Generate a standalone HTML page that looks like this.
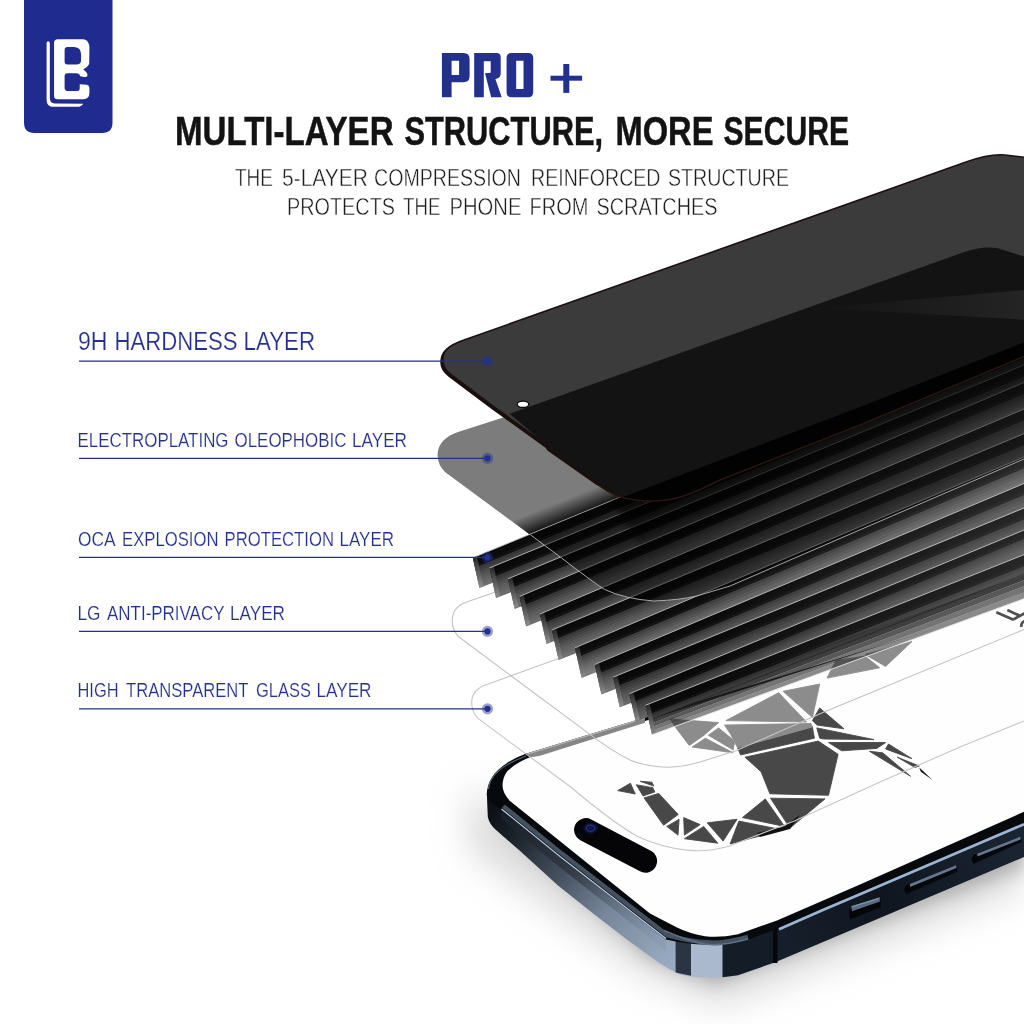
<!DOCTYPE html>
<html><head><meta charset="utf-8"><title>PRO+ Multi-layer structure</title>
<style>
html,body{margin:0;padding:0;background:#fff;}
body{width:1024px;height:1024px;overflow:hidden;position:relative;font-family:"Liberation Sans",sans-serif;}
svg{position:absolute;left:0;top:0;display:block;will-change:transform;}
text{font-family:"Liberation Sans",sans-serif;}
</style></head><body>
<svg width="1024" height="1024" viewBox="0 0 1024 1024">
<defs>
<filter id="blur18" x="-50%" y="-50%" width="200%" height="200%"><feGaussianBlur stdDeviation="18"/></filter>
<filter id="blur8" x="-50%" y="-50%" width="200%" height="200%"><feGaussianBlur stdDeviation="8"/></filter>
<filter id="blur3" x="-50%" y="-50%" width="200%" height="200%"><feGaussianBlur stdDeviation="3"/></filter>
<filter id="blur1" x="-50%" y="-50%" width="200%" height="200%"><feGaussianBlur stdDeviation="1.2"/></filter>
<linearGradient id="finface" x1="0" y1="0" x2="0" y2="1">
 <stop offset="0" stop-color="#0a0a0a"/><stop offset="0.36" stop-color="#151515"/><stop offset="0.40" stop-color="#2e2e2e"/><stop offset="1" stop-color="#6a6a6a"/>
</linearGradient>
<linearGradient id="finend" x1="0" y1="0" x2="0" y2="1">
 <stop offset="0" stop-color="#262626"/><stop offset="1" stop-color="#8e8e8e"/>
</linearGradient>
<linearGradient id="sideL" gradientUnits="userSpaceOnUse" x1="487" y1="805" x2="700" y2="965">
 <stop offset="0" stop-color="#0b0e13"/><stop offset="0.15" stop-color="#1a2129"/><stop offset="0.4" stop-color="#4a5665"/><stop offset="0.6" stop-color="#77869a"/><stop offset="0.85" stop-color="#93a5bb"/><stop offset="1" stop-color="#9fb3cb"/>
</linearGradient>
<linearGradient id="sideLtop" gradientUnits="userSpaceOnUse" x1="500" y1="806" x2="660" y2="935">
 <stop offset="0" stop-color="#1a2028" stop-opacity="0.9"/><stop offset="0.5" stop-color="#2a323c" stop-opacity="0.7"/><stop offset="1" stop-color="#7f8fa5" stop-opacity="0.3"/>
</linearGradient>
<linearGradient id="sideR" gradientUnits="userSpaceOnUse" x1="740" y1="960" x2="1024" y2="830">
 <stop offset="0" stop-color="#1a2230"/><stop offset="0.5" stop-color="#0f1620"/><stop offset="1" stop-color="#1b2533"/>
</linearGradient>
<linearGradient id="topref" gradientUnits="userSpaceOnUse" x1="800" y1="300" x2="1024" y2="300">
 <stop offset="0" stop-color="#222" stop-opacity="0"/><stop offset="1" stop-color="#242424" stop-opacity="1"/>
</linearGradient>
<linearGradient id="grayshade" gradientUnits="userSpaceOnUse" x1="560" y1="501.5" x2="567" y2="519">
 <stop offset="0" stop-color="#000" stop-opacity="0"/><stop offset="1" stop-color="#000" stop-opacity="0.82"/>
</linearGradient>
<linearGradient id="finlight" gradientUnits="userSpaceOnUse" x1="700" y1="0" x2="1024" y2="0">
 <stop offset="0" stop-color="#fff" stop-opacity="0"/><stop offset="1" stop-color="#fff" stop-opacity="0.12"/>
</linearGradient>
<linearGradient id="topshadow" gradientUnits="userSpaceOnUse" x1="800" y1="450" x2="818" y2="495">
 <stop offset="0" stop-color="#000" stop-opacity="0.6"/><stop offset="1" stop-color="#000" stop-opacity="0"/>
</linearGradient>
</defs>
<!-- phone shadow -->
<path d="M468,790 L470,850 L640,972 L720,1006 L1024,888 L1024,820 L700,900 Z" fill="#b8b8b8" opacity="0.5" filter="url(#blur18)"/>
<path d="M492,818 L650,960 L715,985 L1024,868 L1024,830 L700,930 Z" fill="#8c8c8c" opacity="0.55" filter="url(#blur8)"/>
<!-- phone side faces -->
<path d="M486.8,793 L487.8,817 Q489.5,824.5 496,830 L519,850 L558,885.5 Q592,913 627.5,940 L660,963.5 Q670,970 679.5,974.3 Q692,977.5 708.8,977.2 Q726,977.5 738,975.2 L777,961.6 L777,927 L748,938 Q722,946 705,943 Q688,943 666,938 L640,918 L600,887 L560,856 L501.5,808.5 L491,799 Z" fill="url(#sideL)"/>
<path d="M501.5,808.5 L560,856 L640,918 L666,938 L666,951 L640,930 L560,867.5 L501.5,819 Z" fill="url(#sideLtop)"/>
<!-- corner stripes -->
<path d="M675.6,934 L691,940 L691,975.8 L675.6,972.6 Z" fill="#2b3442"/>
<path d="M691,940 Q706,944.5 722.5,944.2 L722.5,977.2 Q706,978 691,975.8 Z" fill="#aab9cd"/>
<path d="M722.5,944.2 Q740,942 773,929 L773,963 L738,975.2 L722.5,977.2 Z" fill="#141c28"/>
<path d="M773,930 L860,891 L1024,822 L1024,857 L777,961.6 L773,963 Z" fill="url(#sideR)"/>
<rect x="773" y="928" width="4.5" height="35" fill="#05070a"/>
<!-- bezel -->
<path d="M486.8,795 C487,779 497,765 525,754 L645,717.6 L1024,602 L1024,823.6 L860,892.6 L777,929 L748,939.5 Q722,947.5 705,944.5 Q688,944.5 666,939.5 L640,919.5 L600,888.5 L560,857.5 L501.5,810 Q489,802 486.8,795 Z" fill="#07090c"/>
<!-- highlight lines on frame edge -->
<path d="M503.4,806.1 L561.9,853.6 L601.9,884.6 L641.9,915.6 L667.5,935.3 Q690,941.5 707,942.3 Q722,944 748,936.8" stroke="#465160" stroke-width="4.4" fill="none"/>
<path d="M501.5,809 L560,856.5 L600,887.5 L640,918.5 L666,938.5" stroke="#b9cde6" stroke-width="1.3" fill="none"/>
<path d="M779,929.2 L824,909.5 L860,894.3 L1024,824.2" stroke="#9db5d2" stroke-width="2.7" fill="none"/>
<path d="M664,930.5 Q688,941 705,944 Q722,946.5 748,939" stroke="#5d7088" stroke-width="1.5" fill="none"/>
<path d="M488.5,789 C489.5,777 499,766 526,756" stroke="#5a6470" stroke-width="1.2" fill="none"/>
<!-- screen -->
<path d="M502.5,785.2 C503,777 506,772 509.3,769.5 Q518,761 538.6,754 L642,722 L1024,600 L1024,811.8 L860,884.4 L777,920.5 L738,934.2 Q720,938 705,936.2 Q690,934 677,927.6 L650,913.5 L510,801 Q502.5,793 502.5,785.2 Z" fill="#fefefe"/>
<!-- dynamic island -->
<line x1="585.8" y1="829.8" x2="645.4" y2="861" stroke="#050507" stroke-width="23.4" stroke-linecap="round"/>
<ellipse cx="590.5" cy="828.3" rx="7.5" ry="5.6" fill="#0b1030"/>
<ellipse cx="590.5" cy="828.3" rx="4.2" ry="3.1" fill="none" stroke="#1f2f8a" stroke-width="1.5"/>
<ellipse cx="590.5" cy="828.3" rx="1.6" ry="1.2" fill="#141a50"/>
<!-- side buttons -->
<path d="M849,910 L880.5,899 L881,907 L850,919.5 Z" fill="#04060a"/>
<path d="M851.5,906.3 L879.5,897.6 L880,901.6 L852,911.2 Z" fill="#5b6c82"/>
<path d="M851.5,906.3 L879.5,897.6 L879.6,898.8 L851.6,907.6 Z" fill="#8194ab"/>
<path d="M904.5,888 L957,867.5 L957.5,871.5 L906,894.5 Z" fill="#05080c"/>
<path d="M910,884 L956,865.3 L956.3,868 L910,887 Z" fill="#66778e"/>
<ellipse cx="907.3" cy="888.6" rx="2.6" ry="4" fill="#03050a" transform="rotate(20 907.3 888.6)"/>
<path d="M972,857.5 L1021,838 L1021.5,842 L973.5,864 Z" fill="#05080c"/>
<path d="M977.3,853.7 L1020.3,836.8 L1020.6,839.5 L977.3,856.6 Z" fill="#66778e"/>
<ellipse cx="974.6" cy="858.3" rx="2.6" ry="4" fill="#03050a" transform="rotate(20 974.6 858.3)"/>
<!-- low-poly animal -->
<g fill="#484848" stroke="#484848" stroke-width="0.9" stroke-linejoin="miter">
<!-- tail -->
<polygon points="617.7,790.6 630.4,783.2 635.3,794"/>
<polygon points="640.2,781.3 651.9,782.2 653.8,786.1"/>
<polygon points="636.3,784.8 652.9,787.7 654.8,792 643,795.9"/>
<polygon points="644,797.9 658.7,793.4 678.2,814.5 663.6,825.2"/>
<polygon points="666.8,826.4 679.1,819.3 678,835.1"/>
<polygon points="683.7,817.6 700.2,824.6 684.4,835.1"/>
<polygon points="684.4,838.7 703.7,826.4 717.8,843.2"/>
<polygon points="707.2,822.8 737.1,819.3 723.1,841.1"/>
<polygon points="738.9,821.1 782.8,829.9 730.1,843.9"/>
<polygon points="742.4,817.6 765.3,798.9 784.6,826.4"/>
<polygon points="770.5,798.2 825,798.9 789.9,828.1"/>
<!-- body -->
<polygon points="745,757.2 818.2,741.1 838.1,754.3 828.5,795.3 769.9,793.8 761.1,771.8"/>
<polygon points="737.6,747.8 812.4,727 814.4,738.2 740.6,754.9"/>
<!-- legs -->
<polygon points="819.7,708 844,728.8 816.8,725 812.4,720.6"/>
<polygon points="816.8,727.9 873.9,739.6 824.1,739 819.7,738.2"/>
<polygon points="828.5,742.5 885.6,742.5 876.8,748.4 841.7,750.8"/>
<polygon points="888.5,744 912,758.7 885.6,749"/>
<polygon points="869.5,751.3 882.7,752.8 910.5,776.2"/>
<polygon points="897.3,757.2 919.3,766 914.9,767.4"/>
</g>
<polygon points="919.3,767.4 932.5,780 920.8,771.8" fill="#111"/>
<polygon points="757,833 784,826.5 800,815 790,829 760,837" fill="#111"/>
<g fill="#8c8c8c" stroke="#8c8c8c" stroke-width="0.9" stroke-linejoin="miter">
<polygon points="670,719 718.6,722.6 704,735.2 689.3,745.5 677.5,730"/>
<polygon points="692.2,747 705.4,738.2 733.2,752.8"/>
<polygon points="708.3,735.2 718.6,727.9 734.7,741.1 733.2,749.9"/>
<polygon points="724.5,725 811,723.5 812.4,727 737.6,747.8 730.3,733.8"/>
<polygon points="725.9,720.6 778.7,692.7 806.5,722"/>
<polygon points="783.1,691.3 819.7,684 812.4,717.6"/>
<polygon points="827,678.1 835.8,660.5 865.1,656.1 879.7,667.8"/>
<polygon points="865.1,654.6 912,641.5 885.6,666.4"/>
</g>
<!-- partial letter at right edge -->
<g stroke="#505050" stroke-width="2.7" fill="none">
<line x1="996.3" y1="612.2" x2="1013.5" y2="619.8"/>
<line x1="1013" y1="619.6" x2="1027" y2="612"/>
<line x1="1007.3" y1="610" x2="1019.5" y2="615.6"/>
<path d="M1027,620.5 Q1020.5,621.5 1021.5,627"/>
</g>
<!-- phone top bezel seen through glass (lighter) -->
<path d="M527,753.6 L645,717.6 L645,722.8 L540,755.8 L531,757.3 Z" fill="#858585"/>
<path d="M527,753.6 L645,717.6 L645,718.8 L528,754.6 Z" fill="#b5b5b5"/>
<!-- transparent glass outlines (B then A) -->
<path d="M471.7,702 C472,692 478,687 488.2,684 L558,658.7 L1024,490 M1024,720.9 L960,747 L880,782 L794.4,821 L728,846.5 Q708,852 689,850.4 Q663,848 638,836.7 Q612,822 572,788 L478,718.4 Q471.5,712 471.7,702" fill="none" stroke="#c6c6c6" stroke-width="1.1"/>
<path d="M452.2,620.6 C452.5,610 458,605 468,601.6 L508.6,587.6 L1024,410 M1024,629.5 L824,712 L735.8,750.8 L700,762 Q683,767 668.5,767.2 Q645,766.5 630.5,760.3 Q610,750 587.3,732.4 L513.6,677.8 L459,637 Q452,630 452.2,620.6" fill="none" stroke="#c2c2c2" stroke-width="1.1"/>
<!-- gray (oleophobic) layer -->
<path d="M437.6,456 C437,444 446,436 458,432 L508,416 L700,380 L700,470 L622,496 L531,535.5 L445,472 Q438,465 437.6,456 Z" fill="#7c7c7c"/>
<path d="M512,521 L640,468.5 L640,489.5 L531,535.5 Z" fill="url(#grayshade)"/>
<!-- fins -->
<g shape-rendering="geometricPrecision">
<polygon points="472.8,557.8 1032.0,327.7 1032.0,330.5 473.5,560.8" fill="#080808"/>
<polygon points="473.3,560.3 1032.0,329.8 1032.0,333.4 474.0,563.3" fill="#0a0a0a"/>
<polygon points="473.9,562.7 1032.0,332.6 1032.0,336.6 474.6,565.8" fill="#0a0a0a"/>
<polygon points="474.4,565.2 1032.0,335.8 1032.0,340.1 475.1,568.2" fill="#111111"/>
<polygon points="475.0,567.6 1032.0,339.2 1032.0,343.7 475.6,570.7" fill="#373737"/>
<polygon points="475.5,570.1 1032.0,342.9 1032.0,347.6 476.2,573.1" fill="#404040"/>
<polygon points="476.1,572.5 1032.0,346.6 1032.0,351.5 476.7,575.6" fill="#4a4a4a"/>
<polygon points="476.6,575.0 1032.0,350.6 1032.0,355.6 477.3,578.1" fill="#545454"/>
<polygon points="477.1,577.5 1032.0,354.6 1032.0,359.8 477.8,580.5" fill="#5b5b5b"/>
<polygon points="477.7,579.9 1032.0,358.8 1032.0,364.1 478.3,583.0" fill="#616161"/>
<polygon points="478.2,582.4 1032.0,363.1 1032.0,368.5 478.9,585.4" fill="#676767"/>
<polygon points="478.8,584.8 1032.0,367.4 1032.0,373.0 479.4,587.9" fill="#6d6d6d"/>
<polygon points="472.8,557.8 477.0,556.3 483.5,585.6 479.3,587.3" fill="url(#finend)"/>
<line x1="472.8" y1="557.8" x2="1032.0" y2="327.7" stroke="#bdbdbd" stroke-width="0.9"/>
<polygon points="489.5,568.0 1032.0,343.7 1032.0,346.4 490.2,571.0" fill="#080808"/>
<polygon points="490.0,570.5 1032.0,345.8 1032.0,349.4 490.7,573.5" fill="#0a0a0a"/>
<polygon points="490.6,572.9 1032.0,348.6 1032.0,352.6 491.3,576.0" fill="#0a0a0a"/>
<polygon points="491.1,575.4 1032.0,351.8 1032.0,356.1 491.8,578.4" fill="#111111"/>
<polygon points="491.7,577.8 1032.0,355.2 1032.0,359.7 492.3,580.9" fill="#373737"/>
<polygon points="492.2,580.3 1032.0,358.8 1032.0,363.6 492.9,583.3" fill="#404040"/>
<polygon points="492.8,582.8 1032.0,362.6 1032.0,367.5 493.4,585.8" fill="#4a4a4a"/>
<polygon points="493.3,585.2 1032.0,366.5 1032.0,371.6 494.0,588.3" fill="#545454"/>
<polygon points="493.8,587.7 1032.0,370.6 1032.0,375.8 494.5,590.7" fill="#5b5b5b"/>
<polygon points="494.4,590.1 1032.0,374.8 1032.0,380.1 495.0,593.2" fill="#616161"/>
<polygon points="494.9,592.6 1032.0,379.0 1032.0,384.5 495.6,595.6" fill="#676767"/>
<polygon points="495.5,595.0 1032.0,383.4 1032.0,389.0 496.1,598.1" fill="#6d6d6d"/>
<polygon points="489.5,568.0 493.7,566.5 500.2,595.8 496.0,597.5" fill="url(#finend)"/>
<line x1="489.5" y1="568.0" x2="1032.0" y2="343.7" stroke="#bdbdbd" stroke-width="0.9"/>
<polygon points="508.0,578.8 1032.0,361.7 1032.0,364.4 508.7,581.8" fill="#080808"/>
<polygon points="508.5,581.3 1032.0,363.8 1032.0,367.4 509.2,584.3" fill="#0a0a0a"/>
<polygon points="509.1,583.7 1032.0,366.6 1032.0,370.6 509.8,586.8" fill="#0a0a0a"/>
<polygon points="509.6,586.2 1032.0,369.8 1032.0,374.1 510.3,589.2" fill="#111111"/>
<polygon points="510.2,588.6 1032.0,373.2 1032.0,377.7 510.8,591.7" fill="#373737"/>
<polygon points="510.7,591.1 1032.0,376.8 1032.0,381.5 511.4,594.1" fill="#404040"/>
<polygon points="511.2,593.5 1032.0,380.6 1032.0,385.5 511.9,596.6" fill="#4a4a4a"/>
<polygon points="511.8,596.0 1032.0,384.5 1032.0,389.6 512.5,599.1" fill="#545454"/>
<polygon points="512.3,598.5 1032.0,388.6 1032.0,393.8 513.0,601.5" fill="#5b5b5b"/>
<polygon points="512.9,600.9 1032.0,392.8 1032.0,398.1 513.5,604.0" fill="#616161"/>
<polygon points="513.4,603.4 1032.0,397.0 1032.0,402.5 514.1,606.4" fill="#676767"/>
<polygon points="514.0,605.8 1032.0,401.4 1032.0,407.0 514.6,608.9" fill="#6d6d6d"/>
<polygon points="508.0,578.8 512.2,577.3 518.7,606.6 514.5,608.3" fill="url(#finend)"/>
<line x1="508.0" y1="578.8" x2="1032.0" y2="361.7" stroke="#bdbdbd" stroke-width="0.9"/>
<polygon points="519.5,596.5 1032.0,379.1 1032.0,381.9 520.2,599.5" fill="#080808"/>
<polygon points="520.0,599.0 1032.0,381.2 1032.0,384.8 520.7,602.0" fill="#0a0a0a"/>
<polygon points="520.6,601.4 1032.0,384.0 1032.0,388.0 521.3,604.5" fill="#0a0a0a"/>
<polygon points="521.1,603.9 1032.0,387.2 1032.0,391.5 521.8,606.9" fill="#111111"/>
<polygon points="521.7,606.3 1032.0,390.6 1032.0,395.1 522.3,609.4" fill="#373737"/>
<polygon points="522.2,608.8 1032.0,394.3 1032.0,399.0 522.9,611.8" fill="#404040"/>
<polygon points="522.8,611.2 1032.0,398.0 1032.0,402.9 523.4,614.3" fill="#4a4a4a"/>
<polygon points="523.3,613.7 1032.0,402.0 1032.0,407.0 524.0,616.8" fill="#545454"/>
<polygon points="523.8,616.2 1032.0,406.0 1032.0,411.2 524.5,619.2" fill="#5b5b5b"/>
<polygon points="524.4,618.6 1032.0,410.2 1032.0,415.5 525.0,621.7" fill="#616161"/>
<polygon points="524.9,621.1 1032.0,414.5 1032.0,419.9 525.6,624.1" fill="#676767"/>
<polygon points="525.5,623.5 1032.0,418.8 1032.0,424.4 526.1,626.6" fill="#6d6d6d"/>
<polygon points="519.5,596.5 523.7,595.0 530.2,624.3 526.0,626.0" fill="url(#finend)"/>
<line x1="519.5" y1="596.5" x2="1032.0" y2="379.1" stroke="#bdbdbd" stroke-width="0.9"/>
<polygon points="540.0,614.0 1032.0,405.6 1032.0,408.4 540.7,617.0" fill="#080808"/>
<polygon points="540.5,616.5 1032.0,407.7 1032.0,411.3 541.2,619.5" fill="#0a0a0a"/>
<polygon points="541.1,618.9 1032.0,410.5 1032.0,414.5 541.8,622.0" fill="#0a0a0a"/>
<polygon points="541.6,621.4 1032.0,413.7 1032.0,418.0 542.3,624.4" fill="#111111"/>
<polygon points="542.2,623.8 1032.0,417.1 1032.0,421.7 542.8,626.9" fill="#373737"/>
<polygon points="542.7,626.3 1032.0,420.8 1032.0,425.5 543.4,629.3" fill="#404040"/>
<polygon points="543.2,628.8 1032.0,424.5 1032.0,429.4 543.9,631.8" fill="#4a4a4a"/>
<polygon points="543.8,631.2 1032.0,428.5 1032.0,433.5 544.5,634.3" fill="#545454"/>
<polygon points="544.3,633.7 1032.0,432.5 1032.0,437.7 545.0,636.7" fill="#5b5b5b"/>
<polygon points="544.9,636.1 1032.0,436.7 1032.0,442.0 545.5,639.2" fill="#616161"/>
<polygon points="545.4,638.6 1032.0,441.0 1032.0,446.4 546.1,641.6" fill="#676767"/>
<polygon points="546.0,641.0 1032.0,445.3 1032.0,450.9 546.6,644.1" fill="#6d6d6d"/>
<polygon points="540.0,614.0 544.2,612.5 550.7,641.8 546.5,643.5" fill="url(#finend)"/>
<line x1="540.0" y1="614.0" x2="1032.0" y2="405.6" stroke="#bdbdbd" stroke-width="0.9"/>
<polygon points="552.0,630.0 1032.0,430.4 1032.0,433.1 552.7,633.0" fill="#090909"/>
<polygon points="552.5,632.5 1032.0,432.5 1032.0,436.0 553.2,635.5" fill="#0a0a0a"/>
<polygon points="553.1,634.9 1032.0,435.3 1032.0,439.3 553.8,638.0" fill="#0b0b0b"/>
<polygon points="553.6,637.4 1032.0,438.5 1032.0,442.8 554.3,640.4" fill="#111111"/>
<polygon points="554.2,639.8 1032.0,441.9 1032.0,446.4 554.8,642.9" fill="#383838"/>
<polygon points="554.7,642.3 1032.0,445.5 1032.0,450.2 555.4,645.3" fill="#424242"/>
<polygon points="555.2,644.8 1032.0,449.3 1032.0,454.2 555.9,647.8" fill="#4c4c4c"/>
<polygon points="555.8,647.2 1032.0,453.2 1032.0,458.3 556.5,650.3" fill="#565656"/>
<polygon points="556.3,649.7 1032.0,457.3 1032.0,462.5 557.0,652.7" fill="#5e5e5e"/>
<polygon points="556.9,652.1 1032.0,461.5 1032.0,466.8 557.5,655.2" fill="#646464"/>
<polygon points="557.4,654.6 1032.0,465.7 1032.0,471.2 558.1,657.6" fill="#6a6a6a"/>
<polygon points="558.0,657.0 1032.0,470.1 1032.0,475.7 558.6,660.1" fill="#707070"/>
<polygon points="552.0,630.0 556.2,628.5 562.7,657.8 558.5,659.5" fill="url(#finend)"/>
<line x1="552.0" y1="630.0" x2="1032.0" y2="430.4" stroke="#bdbdbd" stroke-width="0.9"/>
<polygon points="575.0,647.8 1032.0,453.6 1032.0,456.3 575.7,650.8" fill="#0a0a0a"/>
<polygon points="575.5,650.3 1032.0,455.7 1032.0,459.3 576.2,653.3" fill="#0b0b0b"/>
<polygon points="576.1,652.7 1032.0,458.5 1032.0,462.5 576.8,655.8" fill="#0c0c0c"/>
<polygon points="576.6,655.2 1032.0,461.7 1032.0,466.0 577.3,658.2" fill="#131313"/>
<polygon points="577.2,657.6 1032.0,465.1 1032.0,469.6 577.8,660.7" fill="#3f3f3f"/>
<polygon points="577.7,660.1 1032.0,468.8 1032.0,473.5 578.4,663.1" fill="#4a4a4a"/>
<polygon points="578.2,662.5 1032.0,472.5 1032.0,477.4 578.9,665.6" fill="#555555"/>
<polygon points="578.8,665.0 1032.0,476.5 1032.0,481.5 579.5,668.1" fill="#606060"/>
<polygon points="579.3,667.5 1032.0,480.5 1032.0,485.7 580.0,670.5" fill="#696969"/>
<polygon points="579.9,669.9 1032.0,484.7 1032.0,490.0 580.5,673.0" fill="#707070"/>
<polygon points="580.4,672.4 1032.0,489.0 1032.0,494.4 581.1,675.4" fill="#777777"/>
<polygon points="581.0,674.8 1032.0,493.3 1032.0,498.9 581.6,677.9" fill="#7d7d7d"/>
<polygon points="575.0,647.8 579.2,646.3 585.7,675.6 581.5,677.3" fill="url(#finend)"/>
<line x1="575.0" y1="647.8" x2="1032.0" y2="453.6" stroke="#bdbdbd" stroke-width="0.9"/>
<polygon points="594.8,664.5 1032.0,480.1 1032.0,482.9 595.5,667.5" fill="#090909"/>
<polygon points="595.3,667.0 1032.0,482.2 1032.0,485.8 596.0,670.0" fill="#0a0a0a"/>
<polygon points="595.9,669.4 1032.0,485.1 1032.0,489.0 596.6,672.5" fill="#0b0b0b"/>
<polygon points="596.4,671.9 1032.0,488.2 1032.0,492.5 597.1,674.9" fill="#121212"/>
<polygon points="597.0,674.3 1032.0,491.7 1032.0,496.2 597.6,677.4" fill="#393939"/>
<polygon points="597.5,676.8 1032.0,495.3 1032.0,500.0 598.2,679.8" fill="#444444"/>
<polygon points="598.0,679.2 1032.0,499.1 1032.0,504.0 598.7,682.3" fill="#4e4e4e"/>
<polygon points="598.6,681.7 1032.0,503.0 1032.0,508.0 599.3,684.8" fill="#585858"/>
<polygon points="599.1,684.2 1032.0,507.1 1032.0,512.2 599.8,687.2" fill="#606060"/>
<polygon points="599.7,686.6 1032.0,511.2 1032.0,516.6 600.3,689.7" fill="#666666"/>
<polygon points="600.2,689.1 1032.0,515.5 1032.0,520.9 600.9,692.1" fill="#6c6c6c"/>
<polygon points="600.8,691.5 1032.0,519.9 1032.0,525.4 601.4,694.6" fill="#737373"/>
<polygon points="594.8,664.5 599.0,663.0 605.5,692.3 601.3,694.0" fill="url(#finend)"/>
<line x1="594.8" y1="664.5" x2="1032.0" y2="480.1" stroke="#bdbdbd" stroke-width="0.9"/>
<polygon points="613.2,677.2 1032.0,504.7 1032.0,507.5 613.9,680.2" fill="#080808"/>
<polygon points="613.7,679.7 1032.0,506.8 1032.0,510.4 614.4,682.7" fill="#090909"/>
<polygon points="614.3,682.1 1032.0,509.6 1032.0,513.6 615.0,685.2" fill="#0a0a0a"/>
<polygon points="614.8,684.6 1032.0,512.8 1032.0,517.1 615.5,687.6" fill="#101010"/>
<polygon points="615.4,687.0 1032.0,516.2 1032.0,520.8 616.0,690.1" fill="#343434"/>
<polygon points="615.9,689.5 1032.0,519.9 1032.0,524.6 616.6,692.5" fill="#3d3d3d"/>
<polygon points="616.5,692.0 1032.0,523.6 1032.0,528.5 617.1,695.0" fill="#464646"/>
<polygon points="617.0,694.4 1032.0,527.6 1032.0,532.6 617.7,697.5" fill="#505050"/>
<polygon points="617.5,696.9 1032.0,531.6 1032.0,536.8 618.2,699.9" fill="#575757"/>
<polygon points="618.1,699.3 1032.0,535.8 1032.0,541.1 618.7,702.4" fill="#5c5c5c"/>
<polygon points="618.6,701.8 1032.0,540.1 1032.0,545.5 619.3,704.8" fill="#626262"/>
<polygon points="619.2,704.2 1032.0,544.5 1032.0,550.0 619.8,707.3" fill="#686868"/>
<polygon points="613.2,677.2 617.4,675.7 623.9,705.0 619.7,706.7" fill="url(#finend)"/>
<line x1="613.2" y1="677.2" x2="1032.0" y2="504.7" stroke="#bdbdbd" stroke-width="0.9"/>
<polygon points="629.3,693.8 1032.0,526.7 1032.0,528.8 630.0,696.6" fill="#080808"/>
<polygon points="629.8,696.1 1032.0,528.3 1032.0,531.0 630.5,698.9" fill="#090909"/>
<polygon points="630.4,698.4 1032.0,530.5 1032.0,533.5 631.1,701.2" fill="#090909"/>
<polygon points="630.9,700.7 1032.0,532.9 1032.0,536.2 631.6,703.5" fill="#0f0f0f"/>
<polygon points="631.5,703.0 1032.0,535.6 1032.0,539.0 632.1,705.8" fill="#313131"/>
<polygon points="632.0,705.3 1032.0,538.3 1032.0,542.0 632.7,708.1" fill="#3a3a3a"/>
<polygon points="632.5,707.5 1032.0,541.3 1032.0,545.0 633.2,710.4" fill="#434343"/>
<polygon points="633.1,709.8 1032.0,544.3 1032.0,548.2 633.8,712.7" fill="#4c4c4c"/>
<polygon points="633.6,712.1 1032.0,547.4 1032.0,551.4 634.3,715.0" fill="#525252"/>
<polygon points="634.2,714.4 1032.0,550.6 1032.0,554.7 634.8,717.3" fill="#585858"/>
<polygon points="634.7,716.7 1032.0,553.9 1032.0,558.1 635.4,719.6" fill="#5d5d5d"/>
<polygon points="635.3,719.0 1032.0,557.3 1032.0,561.6 635.9,721.8" fill="#626262"/>
<polygon points="629.3,693.8 633.5,692.3 640.0,719.6 635.8,721.3" fill="url(#finend)"/>
<line x1="629.3" y1="693.8" x2="1032.0" y2="526.7" stroke="#bdbdbd" stroke-width="0.9"/>
<polygon points="645.5,705.3 1032.0,551.5 1032.0,554.3 646.2,708.3" fill="#080808"/>
<polygon points="646.0,707.8 1032.0,553.6 1032.0,557.2 646.7,710.8" fill="#090909"/>
<polygon points="646.6,710.2 1032.0,556.5 1032.0,560.4 647.3,713.3" fill="#090909"/>
<polygon points="647.1,712.7 1032.0,559.6 1032.0,563.9 647.8,715.7" fill="#0f0f0f"/>
<polygon points="647.7,715.1 1032.0,563.1 1032.0,567.6 648.3,718.2" fill="#313131"/>
<polygon points="648.2,717.6 1032.0,566.7 1032.0,571.4 648.9,720.6" fill="#3a3a3a"/>
<polygon points="648.8,720.0 1032.0,570.5 1032.0,577.2 649.7,724.2" fill="#1e1e1e" fill-opacity="0.86"/>
<polygon points="649.7,724.2 1032.0,577.2 1032.0,583.1 650.4,727.7" fill="#1e1e1e" fill-opacity="0.74"/>
<polygon points="650.4,727.7 1032.0,583.1 1032.0,589.4 651.2,731.3" fill="#1e1e1e" fill-opacity="0.62"/>
<polygon points="651.2,731.3 1032.0,589.4 1032.0,595.8 652.0,734.8" fill="#1e1e1e" fill-opacity="0.52"/>
<polygon points="645.5,705.3 649.7,703.8 656.2,733.1 652.0,734.8" fill="url(#finend)"/>
<line x1="645.5" y1="705.3" x2="1032.0" y2="551.5" stroke="#bdbdbd" stroke-width="0.9"/>
<line x1="652.0" y1="734.8" x2="1032.0" y2="595.8" stroke="#e8e8e8" stroke-width="0.9"/>
</g>
<!-- brightening of fins toward right -->
<path d="M700,488 L1024,356 L1024,575 L700,690 Z" fill="url(#finlight)"/>
<!-- shadow of the top layer on the fins -->
<path d="M612,500 L1030,346 L1030,404 L640,548 Z" fill="url(#topshadow)" filter="url(#blur3)"/>
<!-- outline C: glass over fins -->
<path d="M530.3,534.7 L561.6,558 Q590,580 604.5,589.4 Q625,599 653.8,601 Q680,600 696.7,596 L730,586 L1030,456.4 L1030,340 L720,465 L622,496.5 Z" fill="#000" fill-opacity="0.45" stroke="none"/>
<path d="M530.3,534.7 L561.6,558 Q590,580 604.5,589.4 Q625,599 653.8,601 Q680,600 696.7,596 L730,586 L1030,456.4" fill="none" stroke="#b4b4b4" stroke-width="0.9"/>
<!-- top layer (9H) -->
<clipPath id="topclip"><path d="M441,362 C441,352 448,345.5 464,340 L966,162 Q990,153.5 1005,155 L1030,158 L1030,354 L860,425 L720,480 L706.5,486.5 Q690,494.5 677,498 Q662,501.5 648,501 Q632,500.5 618.6,496.7 Q608,492.5 598,485 L547.8,449.8 L546.3,447.4 L493,409 L449,376 Q441,370 441,362 Z"/></clipPath>
<path d="M441,362 C441,352 448,345.5 464,340 L966,162 Q990,153.5 1005,155 L1030,158 L1030,354 L860,425 L720,480 L706.5,486.5 Q690,494.5 677,498 Q662,501.5 648,501 Q632,500.5 618.6,496.7 Q608,492.5 598,485 L547.8,449.8 L546.3,447.4 L493,409 L449,376 Q441,370 441,362 Z" fill="#1b1010"/>
<g clip-path="url(#topclip)">
<path d="M441,362 C441,352 448,345.5 464,340 L966,162 Q990,153.5 1005,155 L1030,158 L1030,354 L860,425 L720,480 L706.5,486.5 Q690,494.5 677,498 Q662,501.5 648,501 Q632,500.5 618.6,496.7 Q608,492.5 598,485 L547.8,449.8 L546.3,447.4 L493,409 L449,376 Q441,370 441,362 Z" fill="#3b3b3b" transform="translate(2.6,-2.0)"/>
<!-- black privacy region -->
<path transform="translate(1.6,-1.2)" d="M508,415 L962,253.5 Q982,246.5 996,249.5 L1030,260 L1030,354 L860,425 L720,480 L706.5,486.5 Q690,494.5 677,498 Q662,501.5 648,501 Q632,500.5 618.6,496.7 Q608,492.5 598,485 L547.8,449.8 L546.3,447.4 Z" fill="#131313"/>
<path d="M818,308 L1030,289.5 L1030,320 Z" fill="url(#topref)"/>
<!-- black band at bottom edge -->
<path d="M622,497.5 L860,407 L1030,340 L1030,354 L860,425 L720,480 L706.5,486.5 Q690,494.5 677,498 Q662,501.5 648,501 Q632,500.5 622,497.5 Z" fill="#020202"/>
</g>
<!-- edge -->
<path d="M464,340 L966,162 Q990,153.5 1005,155 L1030,158" fill="none" stroke="#1c1010" stroke-width="1.5"/>
<path d="M1030,354 L860,425 L720,480 L706.5,486.5 Q690,494.5 677,498 Q662,501.5 648,501 Q632,500.5 618.6,496.7 Q608,492.5 598,485" fill="none" stroke="#2a1614" stroke-width="1.4"/>
<path d="M598,485 L547.8,449.8 L546.3,447.4 L493,409 L449,376 Q441,370 441,362 C441,352 448,345.5 464,340" fill="none" stroke="#1a0e0e" stroke-width="1.6" stroke-linejoin="round"/>
<ellipse cx="523" cy="404.3" rx="5.8" ry="3.2" fill="#ffffff" stroke="#0a0a0a" stroke-width="1.3"/>
<!-- labels -->
<g stroke="#24308e" stroke-width="1.25" fill="none">
<line x1="79" y1="361" x2="487" y2="361"/>
<line x1="79" y1="458.3" x2="487" y2="458.3"/>
<line x1="79" y1="557.4" x2="487" y2="557.4"/>
<line x1="79" y1="631.4" x2="487" y2="631.4"/>
<line x1="79" y1="708.8" x2="487" y2="708.8"/>
</g>
<g fill="#24308e">
<circle cx="487.5" cy="361" r="5.6" fill-opacity="0.45"/><circle cx="487.5" cy="361" r="3.1"/>
<circle cx="487.5" cy="458.3" r="5.6" fill-opacity="0.45"/><circle cx="487.5" cy="458.3" r="3.1"/>
<circle cx="487.5" cy="557.4" r="5.6" fill-opacity="0.45"/><circle cx="487.5" cy="557.4" r="3.1"/>
<circle cx="487.5" cy="631.4" r="5.6" fill-opacity="0.45"/><circle cx="487.5" cy="631.4" r="3.1"/>
<circle cx="487.5" cy="708.8" r="5.6" fill-opacity="0.45"/><circle cx="487.5" cy="708.8" r="3.1"/>
</g>
<g fill="#24308e" stroke="#ffffff" stroke-width="0.2">
<g font-size="26.2">
<text x="78" y="350" textLength="29.5" lengthAdjust="spacingAndGlyphs">9H</text>
<text x="114.5" y="350" textLength="123" lengthAdjust="spacingAndGlyphs">HARDNESS</text>
<text x="243.5" y="350" textLength="71.5" lengthAdjust="spacingAndGlyphs">LAYER</text>
</g>
<g font-size="21">
<text x="77.5" y="447" textLength="151" lengthAdjust="spacingAndGlyphs">ELECTROPLATING</text>
<text x="234.5" y="447" textLength="112" lengthAdjust="spacingAndGlyphs">OLEOPHOBIC</text>
<text x="352" y="447" textLength="55" lengthAdjust="spacingAndGlyphs">LAYER</text>
<text x="78" y="546" textLength="37.5" lengthAdjust="spacingAndGlyphs">OCA</text>
<text x="122" y="546" textLength="96.5" lengthAdjust="spacingAndGlyphs">EXPLOSION</text>
<text x="224.5" y="546" textLength="109.5" lengthAdjust="spacingAndGlyphs">PROTECTION</text>
<text x="339.5" y="546" textLength="54.5" lengthAdjust="spacingAndGlyphs">LAYER</text>
<text x="77.5" y="620.4" textLength="23" lengthAdjust="spacingAndGlyphs">LG</text>
<text x="107" y="620.4" textLength="117.5" lengthAdjust="spacingAndGlyphs">ANTI-PRIVACY</text>
<text x="230" y="620.4" textLength="55" lengthAdjust="spacingAndGlyphs">LAYER</text>
<text x="77.5" y="696.9" textLength="41" lengthAdjust="spacingAndGlyphs">HIGH</text>
<text x="126" y="696.9" textLength="122.5" lengthAdjust="spacingAndGlyphs">TRANSPARENT</text>
<text x="256" y="696.9" textLength="55" lengthAdjust="spacingAndGlyphs">GLASS</text>
<text x="316.5" y="696.9" textLength="55" lengthAdjust="spacingAndGlyphs">LAYER</text>
</g>
</g>
<!-- logo badge -->
<path d="M24,0 L112.5,0 L112.5,122.5 Q112.5,133 102,133 L34.5,133 Q24,133 24,122.5 Z" fill="#1f2b8f"/>
<g transform="translate(34,28) scale(0.08795)" fill="#ffffff">
<path fill-rule="evenodd" d="M270,128 L560,128 Q630,135 630,230 L628,400 Q620,440 560,470 L600,510 Q615,530 605,548 Q595,560 570,556 L525,548 Q520,515 480,515 L380,515 Q348,515 348,550 L348,680 Q348,715 380,715 L490,715 Q520,715 520,690 L520,640 L600,645 Q628,648 630,680 L630,740 Q630,810 560,810 L270,810 Q228,810 228,770 L228,170 Q228,128 270,128 Z M380,215 L460,215 Q535,220 535,300 L535,370 Q535,415 480,415 L380,415 Q348,415 348,385 L348,250 Q348,215 380,215 Z"/>
<path d="M162,150 Q180,150 180,175 L180,800 Q180,858 235,858 L560,860 Q540,895 490,896 L220,896 Q143,896 143,815 L143,175 Q143,150 162,150 Z"/>
</g>
<!-- PRO + -->
<g fill="#24308e">
<path d="M441.9,53 L463.4,53 Q469.6,53 469.6,59.2 L469.6,76 Q469.6,82.25 463.4,82.25 L451.6,82.25 L451.6,97.25 L441.9,97.25 Z M451.6,60.8 L451.6,74.9 L459.1,74.9 L459.1,60.8 Z" fill-rule="evenodd"/>
<path d="M474.2,53 L496.5,53 Q500.7,53 500.7,57.2 L500.7,73.3 Q500.7,77.8 496.5,78.8 L495.4,79.1 L501.7,97.28 L491.2,97.28 L485,73.2 L490.7,72.8 L490.7,61.2 L483.8,61.2 L483.8,97.28 L474.2,97.28 Z"/>
<path d="M506.6,58 Q506.6,53 511.6,53 L528.2,53 Q533.2,53 533.2,58 L533.2,92.25 Q533.2,97.25 528.2,97.25 L511.6,97.25 Q506.6,97.25 506.6,92.25 Z M516.2,60.8 L516.2,89 L523.5,89 L523.5,60.8 Z" fill-rule="evenodd"/>
<rect x="550.5" y="75.7" width="31.6" height="5"/>
<rect x="563.3" y="64" width="6" height="28.9"/>
</g>
<g font-size="40" font-weight="bold" fill="#131313" stroke="#131313" stroke-width="0.5" lengthAdjust="spacingAndGlyphs">
<text x="175" y="145" textLength="218.5" lengthAdjust="spacingAndGlyphs">MULTI-LAYER</text>
<text x="404.5" y="145" textLength="198.5" lengthAdjust="spacingAndGlyphs">STRUCTURE,</text>
<text x="615.5" y="145" textLength="98" lengthAdjust="spacingAndGlyphs">MORE</text>
<text x="723.5" y="145" textLength="125.5" lengthAdjust="spacingAndGlyphs">SECURE</text>
</g>
<g font-size="24.4" fill="#1c1c1c" stroke="#ffffff" stroke-width="0.45">
<text x="235" y="186.2" textLength="38" lengthAdjust="spacingAndGlyphs">THE</text>
<text x="282" y="186.2" textLength="86" lengthAdjust="spacingAndGlyphs">5-LAYER</text>
<text x="374" y="186.2" textLength="147" lengthAdjust="spacingAndGlyphs">COMPRESSION</text>
<text x="531" y="186.2" textLength="129.5" lengthAdjust="spacingAndGlyphs">REINFORCED</text>
<text x="668" y="186.2" textLength="121" lengthAdjust="spacingAndGlyphs">STRUCTURE</text>
<text x="287" y="214.8" textLength="108" lengthAdjust="spacingAndGlyphs">PROTECTS</text>
<text x="403" y="214.8" textLength="37.5" lengthAdjust="spacingAndGlyphs">THE</text>
<text x="449.5" y="214.8" textLength="72" lengthAdjust="spacingAndGlyphs">PHONE</text>
<text x="529.5" y="214.8" textLength="59" lengthAdjust="spacingAndGlyphs">FROM</text>
<text x="596.5" y="214.8" textLength="121" lengthAdjust="spacingAndGlyphs">SCRATCHES</text>
</g>
</svg>
</body></html>
